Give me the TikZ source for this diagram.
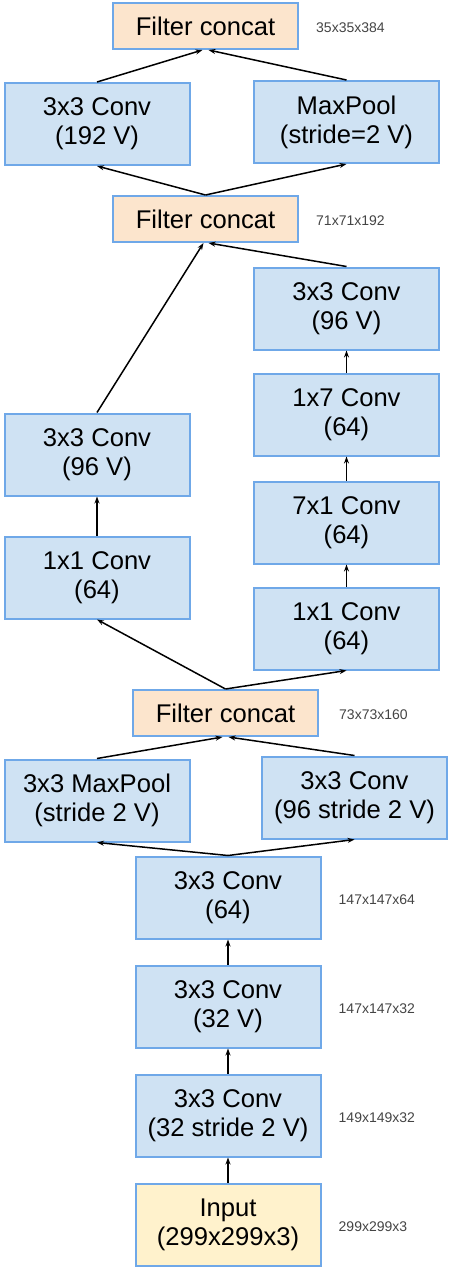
\documentclass[tikz,border=0pt]{standalone}
\usepackage{fontspec}
\setmainfont{Liberation Sans}
\usepackage{tikz}
\usetikzlibrary{arrows.meta,positioning}

\definecolor{boxline}{HTML}{6FA8E8}
\definecolor{convfill}{HTML}{CFE2F3}
\definecolor{catfill}{HTML}{FCE5CD}
\definecolor{infill}{HTML}{FFF2CC}
\definecolor{dimgray}{HTML}{444444}

\tikzset{
  layer/.style={draw=boxline, line width=2pt, fill=convfill, align=center,
    minimum width=185pt, minimum height=82pt, inner sep=0pt,
    font=\fontsize{25.6}{29}\selectfont},
  concat/.style={layer, fill=catfill, minimum height=46pt},
  inputbox/.style={layer, fill=infill},
  dims/.style={inner sep=0pt, anchor=west, text=dimgray, yshift=-2pt,
    font=\fontsize{14}{16}\selectfont},
  flow/.style={-{Stealth[length=7pt,width=5pt]}, line width=1.5pt}
}

\begin{document}
\begin{tikzpicture}[x=1pt, y=-1pt, node distance=25pt]
          \useasboundingbox (0,0) rectangle (450,1270);

          % stem
          \node[inputbox] (input) at (228,1224.5) {Input\\(299x299x3)};
          \node[layer] (conv_a) [above=of input] {3x3 Conv\\(32 stride 2 V)};
          \node[layer] (conv_b) [above=of conv_a] {3x3 Conv\\(32 V)};
          \node[layer] (conv_c) [above=of conv_b] {3x3 Conv\\(64)};

          \node[layer] (pool_a) at (97,800.5) {3x3 MaxPool\\(stride 2 V)};
          \node[layer] (conv_d) at (354.5,797.5) {3x3 Conv\\(96 stride 2 V)};
          \node[concat] (cat_a) at (225.5,713) {Filter concat};

          % two branches
          \node[layer] (left_a) at (97,577.5) {1x1 Conv\\(64)};
          \node[layer] (left_b) [above=39pt of left_a] {3x3 Conv\\(96 V)};
          \node[layer] (right_a) at (346.5,628.5) {1x1 Conv\\(64)};
          \node[layer] (right_b) [above=22pt of right_a] {7x1 Conv\\(64)};
          \node[layer] (right_c) [above=24pt of right_b] {1x7 Conv\\(64)};
          \node[layer] (right_d) [above=22pt of right_c] {3x3 Conv\\(96 V)};
          \node[concat] (cat_b) at (205.5,219) {Filter concat};

          \node[layer] (conv_e) at (97,124) {3x3 Conv\\(192 V)};
          \node[layer] (pool_b) at (346.5,122) {MaxPool\\(stride=2 V)};
          \node[concat] (cat_c) at (205.5,26) {Filter concat};

          % sizes
          \node[dims] (d_cat_c) [right=17pt of cat_c] {35x35x384};
          \node[dims] (d_cat_b) [right=17pt of cat_b] {71x71x192};
          \node[dims] (d_cat_a) [right=20pt of cat_a] {73x73x160};
          \node[dims] (d_conv_c) [right=17pt of conv_c] {147x147x64};
          \node[dims] (d_conv_b) [right=17pt of conv_b] {147x147x32};
          \node[dims] (d_conv_a) [right=17pt of conv_a] {149x149x32};
          \node[dims] (d_input) [right=17pt of input] {299x299x3};

          \foreach \from/\to in {input/conv_a, conv_a/conv_b, conv_b/conv_c,
              left_a/left_b, right_a/right_b, right_b/right_c, right_c/right_d}
            \path[flow] (\from) edge (\to);

          \path[flow] (conv_c.north) edge (pool_a.south);
          \path[flow] (conv_c.north) edge (conv_d.south);
          \path[flow] (pool_a.north) edge ([xshift=-3pt]cat_a.south);
          \path[flow] (conv_d.north) edge ([xshift=3pt]cat_a.south);

          \path[flow] (cat_a.north) edge (left_a.south);
          \path[flow] (cat_a.north) edge (right_a.south);
          \path[flow] (left_b.north) edge ([xshift=-2pt]cat_b.south);
          \path[flow] (right_d.north) edge ([xshift=3pt]cat_b.south);

          \path[flow] (cat_b.north) edge (conv_e.south);
          \path[flow] (cat_b.north) edge (pool_b.south);
          \path[flow] (conv_e.north) edge ([xshift=-3pt]cat_c.south);
          \path[flow] (pool_b.north) edge ([xshift=3pt]cat_c.south);
        \end{tikzpicture}
\end{document}
